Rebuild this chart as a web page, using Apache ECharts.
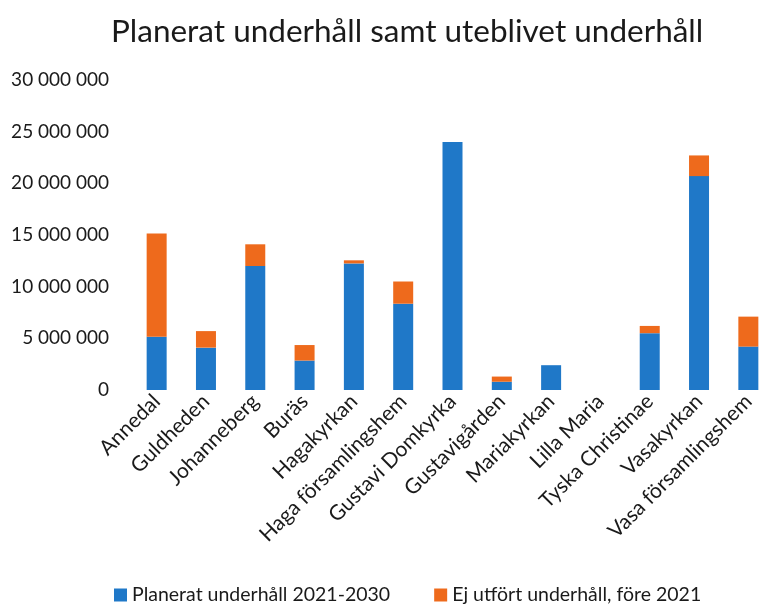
<!DOCTYPE html>
<html>
<head>
<meta charset="utf-8">
<script src="https://cdn.jsdelivr.net/npm/echarts@6/dist/echarts.min.js"></script>
<style>
  html, body { margin: 0; padding: 0; background: #ffffff; }
  #chart { width: 773px; height: 604px; }
</style>
</head>
<body>
<div id="chart"></div>
<script>
// Församlingar / fastigheter
const categories = [
  'Annedal', 'Guldheden', 'Johanneberg', 'Buräs', 'Hagakyrkan',
  'Haga församlingshem', 'Gustavi Domkyrka', 'Gustavigården',
  'Mariakyrkan', 'Lilla Maria', 'Tyska Christinae', 'Vasakyrkan',
  'Vasa församlingshem'
];

// Planerat underhåll 2021-2030 (kr)
const planerat = [
  5150000, 4100000, 12000000, 2850000, 12250000,
  8350000, 24000000, 800000, 2400000, 0,
  5500000, 20700000, 4200000
];

// Ej utfört underhåll, före 2021 (kr)
const ejUtfort = [
  10000000, 1600000, 2100000, 1500000, 300000,
  2150000, 0, 500000, 0, 0,
  700000, 2000000, 2900000
];

const yTicks = [0, 5000000, 10000000, 15000000, 20000000, 25000000, 30000000];

const FONT = 'Lato, "Open Sans", sans-serif';
const TEXT = '#1a1a1a';
const BLUE = '#1f78c8';
const ORANGE = '#ee6a1c';

function spaced(v) {
  return String(v).replace(/\B(?=(\d{3})+(?!\d))/g, ' ');
}

const chart = echarts.init(document.getElementById('chart'), null, { renderer: 'canvas' });

chart.setOption({
  backgroundColor: '#ffffff',
  animation: false,
  title: {
    text: 'Planerat underhåll samt uteblivet underhåll',
    left: 106,
    top: 11,
    textStyle: { fontFamily: FONT, fontSize: 31.5, fontWeight: 'normal', color: TEXT }
  },
  legend: {
    top: 580,
    left: 109,
    itemWidth: 13,
    itemHeight: 13,
    itemGap: 44,
    icon: 'rect',
    textStyle: { fontFamily: FONT, fontSize: 19.5, color: TEXT },
    data: ['Planerat underhåll 2021-2030', 'Ej utfört underhåll, före 2021']
  },
  grid: { left: 132, right: -15, top: 80, bottom: 214, containLabel: false },
  xAxis: {
    type: 'category',
    data: categories,
    axisLine: { show: false },
    axisTick: { show: false },
    axisLabel: {
      interval: 0,
      rotate: 45,
      margin: 8,
      fontFamily: FONT,
      fontSize: 21,
      color: TEXT
    }
  },
  yAxis: {
    type: 'value',
    min: yTicks[0],
    max: yTicks[yTicks.length - 1],
    interval: yTicks[1] - yTicks[0],
    axisLine: { show: false },
    axisTick: { show: false },
    splitLine: { show: false },
    axisLabel: {
      margin: 23,
      fontFamily: FONT,
      fontSize: 19,
      color: TEXT,
      formatter: v => spaced(v)
    }
  },
  series: [
    {
      name: 'Planerat underhåll 2021-2030',
      type: 'bar',
      stack: 'total',
      barWidth: 20,
      itemStyle: { color: BLUE },
      data: planerat
    },
    {
      name: 'Ej utfört underhåll, före 2021',
      type: 'bar',
      stack: 'total',
      barWidth: 20,
      itemStyle: { color: ORANGE },
      data: ejUtfort
    }
  ]
});
</script>
</body>
</html>
